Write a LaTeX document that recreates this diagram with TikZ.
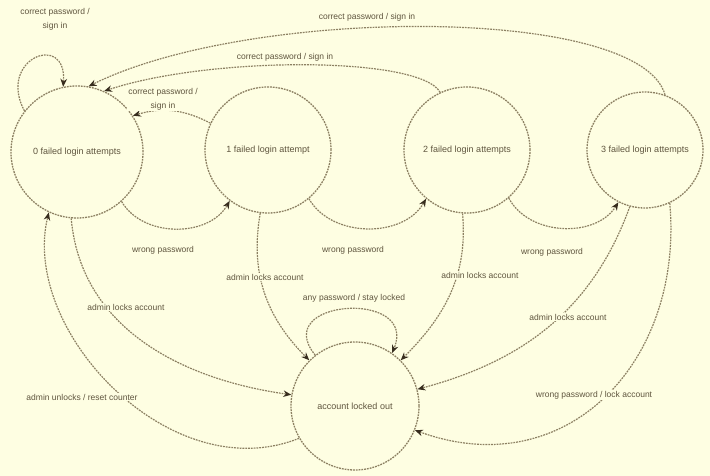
\documentclass[tikz,border=0pt]{standalone}
\usepackage{fontspec}
\setmainfont{Liberation Sans}
\usetikzlibrary{arrows.meta}
\definecolor{bg}{RGB}{254,254,226}
\definecolor{ln}{RGB}{140,128,98}
\definecolor{tx}{RGB}{95,85,62}
\definecolor{ah}{RGB}{55,45,30}
\begin{document}
\begin{tikzpicture}[x=1pt,y=1pt,
  state/.style={circle, draw=ln, line width=1.3pt, dash pattern=on 1.8pt off 1pt,
    inner sep=0pt, text=tx, font=\fontsize{9}{10}\selectfont},
  edge/.style={draw=ln, line width=1.2pt, dash pattern=on 1.8pt off 1pt,
    -{Stealth[length=8pt,width=6.5pt,fill=ah,color=ah]}},
  lbl/.style={text=tx, font=\fontsize{8.5}{14}\selectfont, fill=bg, inner sep=1pt, align=center}
]
\fill[bg] (0,0) rectangle (710,476);
\useasboundingbox (0,0) rectangle (710,476);

% states
\node[state, minimum size=132pt] (S0) at (77,324) {0 failed login attempts};
\node[state, minimum size=126pt] (S1) at (268,326) {1 failed login attempt};
\node[state, minimum size=126pt] (S2) at (467,326) {2 failed login attempts};
\node[state, minimum size=116pt] (S3) at (645,326) {3 failed login attempts};
\node[state, minimum size=128pt] (L) at (355,70) {account locked out};

% connectors
\draw[edge] (S0.142) .. controls +(-28,52) and +(4,56) .. (S0.102);
\draw[edge] (S3.70) .. controls (640,471) and (250,470) .. (S0.80);
\draw[edge] (S2.115) .. controls (420,420) and (210,420) .. (S0.66);
\draw[edge] (S1.155) to[bend right=22] (S0.33);
\draw[edge] (S0.-48) to[bend right=60] (S1.-127);
\draw[edge] (S1.-50) to[bend right=60] (S2.-130);
\draw[edge] (S2.-49) to[bend right=60] (S3.-117);
\draw[edge] (S0.-95) to[out=-85,in=172] (L.170);
\draw[edge] (S1.-97) to[out=-100,in=135] (L.135);
\draw[edge] (S2.-94) to[out=-85,in=45] (L.45);
\draw[edge] (S3.-105) to[out=-110,in=15] (L.15);
\draw[edge] (S3.-65) to[out=-85,in=-20,looseness=1.2] (L.-22);
\draw[edge] (L.128) .. controls +(-46,56) and +(27,64) .. (L.55);
\draw[edge] (L.210) .. controls (170,-14) and (20,146) .. (S0.-115);

% labels
\node[lbl] (tLoop0) at (55,457) {correct password /\\sign in};
\node[lbl] (t30) at (367,459) {correct password / sign in};
\node[lbl] (t20) at (285,419) {correct password / sign in};
\node[lbl] (t10) at (163,377) {correct password /\\sign in};
\node[lbl] (t01) at (163,226) {wrong password};
\node[lbl] (t12) at (353,226) {wrong password};
\node[lbl] (t23) at (552,224) {wrong password};
\node[lbl] (t1L) at (265,199) {admin locks account};
\node[lbl] (t2L) at (480,201) {admin locks account};
\node[lbl] (t0L) at (126,169) {admin locks account};
\node[lbl] (tLL) at (354,178) {any password / stay locked};
\node[lbl] (t3La) at (568,159) {admin locks account};
\node[lbl] (t3Lb) at (594,81) {wrong password / lock account};
\node[lbl] (tL0) at (82,79) {admin unlocks / reset counter};
\end{tikzpicture}
\end{document}
